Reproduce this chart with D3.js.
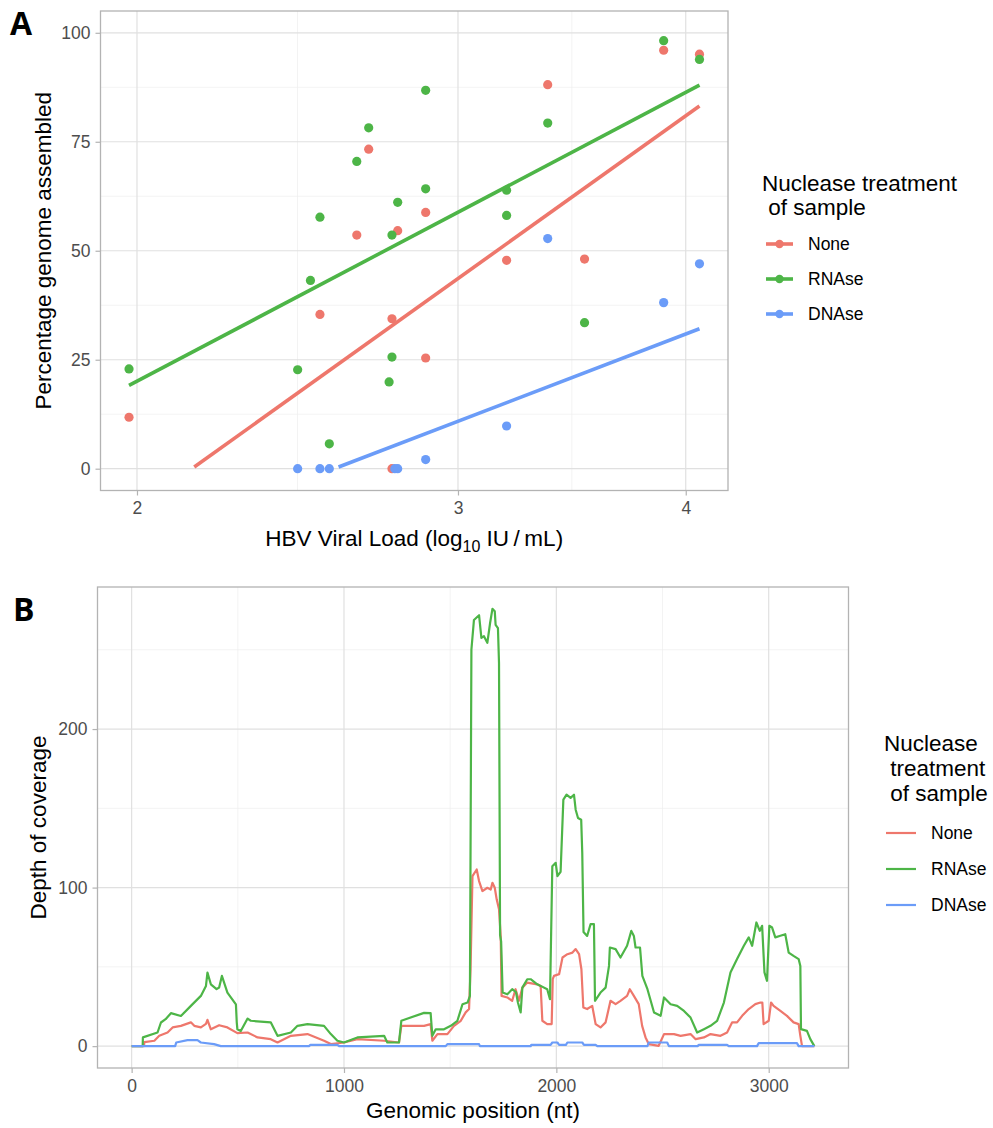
<!DOCTYPE html>
<html lang="en">
<head>
<meta charset="UTF-8">
<title>HBV assembly and coverage</title>
<script src="https://cdn.jsdelivr.net/npm/d3@7"></script>
<style>
  body { margin: 0; background: #fff; font-family: "Liberation Sans", Arial, sans-serif; }
  .grid-major { stroke: #E0E0E0; stroke-width: 1.2; }
  .grid-minor { stroke: #EEEEEE; stroke-width: 0.7; }
  .frame { fill: none; stroke: #B3B3B3; stroke-width: 1.3; }
  .axis path { display: none; }
  .axis line { stroke: #B3B3B3; stroke-width: 1.2; }
  .axis text { fill: #4D4D4D; font-size: 17.5px; font-family: "Liberation Sans", Arial, sans-serif; }
  .title { fill: #000; font-size: 22.5px; }
  .legend-label { fill: #000; font-size: 17.5px; }
  .tag { font-family: "Open Sans", sans-serif; font-weight: 700; font-size: 32px; }
</style>
</head>
<body>
<script>
// treatment groups and colours
var groups = ['None', 'RNAse', 'DNAse'];
var colors = ['#EE776C', '#4DB547', '#6B9CF8'];

// panel A: [log10 viral load, % genome assembled]
var pointsNone = [[1.98,11.8],[2.52,35.4],[2.64,53.6],[2.68,73.3],[2.76,0],[2.76,34.4],[2.78,54.6],
  [2.88,58.8],[2.88,25.4],[3.19,47.8],[3.36,88.1],[3.52,48.1],[3.89,96.0],[4.07,95.1]];
var pointsRNAse = [[1.98,22.9],[2.45,22.7],[2.49,43.2],[2.52,57.7],[2.55,5.7],[2.64,70.5],[2.68,78.2],
  [2.75,19.9],[2.76,25.6],[2.76,53.6],[2.78,61.1],[2.88,86.8],[2.88,64.2],[3.19,63.9],[3.19,58.1],
  [3.36,79.3],[3.52,33.5],[3.89,98.2],[4.07,93.9]];
var pointsDNAse = [[2.45,0],[2.52,0],[2.55,0],[2.77,0],[2.78,0],[2.88,2.1],[3.19,9.8],[3.36,52.8],
  [3.89,38.1],[4.07,47.0]];

// fitted lm lines (start / end, as drawn)
var fitNone = [[2.15,0.4],[4.07,83.2]];
var fitRNAse = [[1.98,19.1],[4.07,88.0]];
var fitDNAse = [[2.58,0.4],[4.07,32.1]];

var xTicksA = [2, 3, 4];
var yTicksA = [0, 25, 50, 75, 100];

// panel B: [genomic position, depth]
var coverageNone = [[0,0],[58,0],[60,2.5],[107,3.4],[130,6.5],[169,8.6],[193,11.8],[232,12.8],[279,15],
  [295,12.8],[326,11.8],[350,14],[357,16.6],[373,10.6],[412,13.2],[451,11.8],[498,8.2],[546,8.6],
  [593,5.5],[655,4.4],[687,2.3],[750,6.5],[828,7.6],[906,3.4],[938,1.3],[1000,2.3],[1063,4.4],
  [1189,3.4],[1259,2.3],[1270,12.8],[1377,12.8],[1408,13.9],[1416,3.4],[1440,7.6],[1487,7.6],
  [1518,12.8],[1550,16],[1573,21.3],[1589,23.4],[1596,48.7],[1605,107.2],[1625,111.4],[1636,104.1],
  [1652,97.8],[1675,99.9],[1691,98.8],[1699,103],[1710,99.9],[1719,92.6],[1730,86.3],[1738,69.5],
  [1742,31.7],[1769,30.7],[1792,28.6],[1808,35.9],[1824,28.6],[1840,36.9],[1863,40.1],[1910,39],
  [1926,38],[1934,16],[1957,13.9],[1978,13.9],[1983,42.2],[1989,44.3],[2013,45.4],[2029,55.9],
  [2052,58],[2076,59],[2091,61.2],[2107,58],[2118,48.5],[2127,24.4],[2145,23.4],[2169,25.4],
  [2185,13.9],[2208,11.8],[2232,15],[2255,28.6],[2279,26.5],[2302,28.6],[2333,31.7],[2346,35.9],
  [2365,31.7],[2388,26.5],[2404,12.8],[2420,5.5],[2435,1.3],[2482,0.2],[2507,7.6],[2554,7.6],
  [2585,6.5],[2632,7.6],[2656,4.4],[2695,5.5],[2726,7.6],[2773,6.5],[2804,8.6],[2828,15],[2851,15],
  [2875,19.1],[2906,23.4],[2937,26.5],[2961,27.5],[2970,27.5],[2976,13.9],[3000,16],[3011,27.5],
  [3023,25.4],[3055,22.2],[3086,19.1],[3117,15],[3141,13.9],[3149,6.5],[3157,0],[3215,0]];
var coverageRNAse = [[0,0],[52,0],[53,5.5],[122,8.6],[138,14.9],[160,17],[185,20.8],[232,19],
  [279,25.4],[326,31.7],[350,38],[357,46.4],[373,39],[400,36],[412,37],[425,44.3],[451,33.8],
  [491,26.4],[495,15],[498,10.6],[514,9.5],[546,17.4],[561,16],[655,15],[687,6.5],[750,8.6],
  [781,12.8],[828,13.9],[906,12.8],[938,7.6],[969,3.4],[1000,2.3],[1063,5.5],[1189,6.5],[1204,2.3],
  [1259,2.3],[1270,16],[1377,21],[1408,20.8],[1416,6.5],[1432,10.6],[1471,10.6],[1503,12.8],
  [1534,16],[1558,26.4],[1582,27.5],[1593,31.7],[1600,250],[1612,268.8],[1636,271.8],[1647,257.5],
  [1659,258.6],[1675,254.4],[1688,266.9],[1699,275.8],[1710,274.3],[1714,265.7],[1725,263.6],
  [1730,241.5],[1735,70],[1740,66],[1747,33.8],[1769,32.7],[1792,35.9],[1810,34],[1819,27.5],
  [1832,21.3],[1840,36.9],[1863,42.2],[1879,42.2],[1910,39],[1926,38],[1957,35.9],[1970,29.6],
  [1981,113.5],[1997,115.6],[2005,107.2],[2020,110],[2033,155.5],[2048,158.6],[2067,156.6],
  [2083,158.6],[2091,149.1],[2102,143.9],[2117,142.8],[2122,121.8],[2128,72],[2145,69.5],
  [2161,76.9],[2177,76.9],[2182,28.6],[2208,33.8],[2232,36.9],[2248,50.6],[2252,62.2],[2279,61.2],
  [2302,55.9],[2333,63.3],[2353,72.7],[2365,69.5],[2373,62.2],[2394,62.2],[2405,44.3],[2429,35.9],
  [2460,21.2],[2491,19.1],[2507,30.7],[2538,26.4],[2569,25.4],[2601,22.2],[2632,18],[2663,8.6],
  [2695,10.7],[2726,12.8],[2757,15.9],[2789,27.5],[2820,46.5],[2851,54.9],[2883,63.3],[2906,68.6],
  [2922,63.3],[2942,78],[2958,72.7],[2969,75.9],[2980,46.5],[2992,41.2],[3003,75.9],[3016,74.8],
  [3031,68.6],[3055,69.6],[3078,70.6],[3094,59],[3117,56.9],[3141,54.9],[3149,50.6],[3152,10.7],
  [3180,9.6],[3196,4.4],[3215,0]];
var coverageDNAse = [[0,0],[205,0],[210,2.3],[263,3.8],[310,3.8],[326,2.3],[388,1.3],[420,0],[835,0],
  [842,0.8],[969,0.8],[977,0],[1479,0],[1487,1.3],[1636,1.3],[1640,0],[1879,0],[1882,0.8],[1973,0.8],
  [1981,2.3],[2005,2.3],[2013,0.8],[2045,0.8],[2052,2.3],[2122,2.3],[2130,0.8],[2185,0.8],[2193,0],
  [2429,0],[2435,2.3],[2522,2.3],[2530,0],[2665,0],[2671,0.8],[2804,0.8],[2812,0],[2945,0],[2953,1.9],
  [3133,1.9],[3141,0],[3215,0]];

var xTicksB = [0, 1000, 2000, 3000];
var yTicksB = [0, 100, 200];

var svg = d3.select('body').append('svg')
  .attr('width', 993)
  .attr('height', 1128);

function midpoints(t, f) {
  return d3.pairs(t).map(function(p){ return f(p[0], p[1]); });
}

function styleAxis(g) {
  g.attr('class', 'axis');
}

// ---------- panel A ----------
var A = {left: 100.5, right: 728, top: 11, bottom: 490.5};
var pointSets = [pointsNone, pointsRNAse, pointsDNAse];
var fitSets = [fitNone, fitRNAse, fitDNAse];
var allPts = d3.merge(pointSets);
var lx = d3.extent(allPts, function(d){ return Math.log10(d[0]); });
var padA = (lx[1] - lx[0]) * 0.05;

var xA = d3.scaleLog()
  .domain([Math.pow(10, lx[0] - padA), Math.pow(10, lx[1] + padA)])
  .range([A.left, A.right]);
var yA = d3.scaleLinear()
  .domain([-5, 105])
  .range([A.bottom, A.top]);

var gA = svg.append('g');
gA.selectAll('.minx').data(midpoints(xTicksA, function(a, b){ return Math.sqrt(a * b); }))
  .enter().append('line').attr('class', 'grid-minor')
  .attr('x1', xA).attr('x2', xA).attr('y1', A.top).attr('y2', A.bottom);
gA.selectAll('.miny').data(midpoints(yTicksA, function(a, b){ return (a + b) / 2; }))
  .enter().append('line').attr('class', 'grid-minor')
  .attr('y1', yA).attr('y2', yA).attr('x1', A.left).attr('x2', A.right);
gA.selectAll('.majx').data(xTicksA)
  .enter().append('line').attr('class', 'grid-major')
  .attr('x1', xA).attr('x2', xA).attr('y1', A.top).attr('y2', A.bottom);
gA.selectAll('.majy').data(yTicksA)
  .enter().append('line').attr('class', 'grid-major')
  .attr('y1', yA).attr('y2', yA).attr('x1', A.left).attr('x2', A.right);

pointSets.forEach(function(pts, i){
  gA.selectAll('.pt' + i).data(pts).enter().append('circle')
    .attr('cx', function(d){ return xA(d[0]); })
    .attr('cy', function(d){ return yA(d[1]); })
    .attr('r', 4.6)
    .attr('fill', colors[i]);
});

var lineA = d3.line()
  .x(function(d){ return xA(d[0]); })
  .y(function(d){ return yA(d[1]); });
fitSets.forEach(function(f, i){
  gA.append('path').attr('d', lineA(f))
    .attr('fill', 'none').attr('stroke', colors[i]).attr('stroke-width', 3.6);
});

gA.append('rect').attr('class', 'frame')
  .attr('x', A.left).attr('y', A.top)
  .attr('width', A.right - A.left).attr('height', A.bottom - A.top);

gA.append('g').attr('transform', 'translate(0,' + A.bottom + ')')
  .call(d3.axisBottom(xA).tickValues(xTicksA).tickFormat(d3.format('d')).tickSize(5).tickPadding(6))
  .call(styleAxis);
gA.append('g').attr('transform', 'translate(' + A.left + ',0)')
  .call(d3.axisLeft(yA).tickValues(yTicksA).tickSize(5).tickPadding(5))
  .call(styleAxis);

var xt = gA.append('text').attr('class', 'title')
  .attr('x', (A.left + A.right) / 2).attr('y', 546)
  .attr('text-anchor', 'middle');
xt.append('tspan').text('HBV Viral Load (log');
xt.append('tspan').attr('font-size', '16px').attr('dy', 6).text('10');
xt.append('tspan').attr('dy', -6).text(' IU\u2009/\u2009mL)');

gA.append('text').attr('class', 'title')
  .attr('transform', 'translate(51,' + (A.top + A.bottom) / 2 + ') rotate(-90)')
  .attr('text-anchor', 'middle')
  .text('Percentage genome assembled');

// legend A
var legA = gA.append('g');
legA.append('text').attr('class', 'title').attr('x', 762).attr('y', 191).text('Nuclease treatment');
legA.append('text').attr('class', 'title').attr('x', 762).attr('y', 215)
  .style('white-space', 'pre').text(' of sample');
groups.forEach(function(g, i){
  var y = 244 + i * 35;
  legA.append('line').attr('x1', 766).attr('x2', 793).attr('y1', y).attr('y2', y)
    .attr('stroke', colors[i]).attr('stroke-width', 3.6);
  legA.append('circle').attr('cx', 779.5).attr('cy', y).attr('r', 4.2).attr('fill', colors[i]);
  legA.append('text').attr('class', 'legend-label').attr('x', 808).attr('y', y + 6).text(g);
});

svg.append('text').attr('class', 'tag').attr('x', 10).attr('y', 35).text('A');

// ---------- panel B ----------
var B = {left: 97.5, right: 848.5, top: 587, bottom: 1068};
var covSets = [coverageNone, coverageRNAse, coverageDNAse];
var allCov = d3.merge(covSets);
var xr = d3.extent(allCov, function(d){ return d[0]; });
var yr = [0, d3.max(allCov, function(d){ return d[1]; })];
var padX = (xr[1] - xr[0]) * 0.05, padY = (yr[1] - yr[0]) * 0.05;

var xB = d3.scaleLinear().domain([xr[0] - padX, xr[1] + padX]).range([B.left, B.right]);
var yB = d3.scaleLinear().domain([yr[0] - padY, yr[1] + padY]).range([B.bottom, B.top]);

var gB = svg.append('g');
var minXB = midpoints(xTicksB, function(a, b){ return (a + b) / 2; });
var minYB = midpoints(yTicksB, function(a, b){ return (a + b) / 2; }).concat([250]);
gB.selectAll('.minx').data(minXB).enter().append('line').attr('class', 'grid-minor')
  .attr('x1', xB).attr('x2', xB).attr('y1', B.top).attr('y2', B.bottom);
gB.selectAll('.miny').data(minYB).enter().append('line').attr('class', 'grid-minor')
  .attr('y1', yB).attr('y2', yB).attr('x1', B.left).attr('x2', B.right);
gB.selectAll('.majx').data(xTicksB).enter().append('line').attr('class', 'grid-major')
  .attr('x1', xB).attr('x2', xB).attr('y1', B.top).attr('y2', B.bottom);
gB.selectAll('.majy').data(yTicksB).enter().append('line').attr('class', 'grid-major')
  .attr('y1', yB).attr('y2', yB).attr('x1', B.left).attr('x2', B.right);

var lineB = d3.line()
  .x(function(d){ return xB(d[0]); })
  .y(function(d){ return yB(d[1]); });
covSets.forEach(function(c, i){
  gB.append('path').attr('d', lineB(c))
    .attr('fill', 'none').attr('stroke', colors[i]).attr('stroke-width', 2.2)
    .attr('stroke-linejoin', 'round');
});

gB.append('rect').attr('class', 'frame')
  .attr('x', B.left).attr('y', B.top)
  .attr('width', B.right - B.left).attr('height', B.bottom - B.top);

gB.append('g').attr('transform', 'translate(0,' + B.bottom + ')')
  .call(d3.axisBottom(xB).tickValues(xTicksB).tickFormat(d3.format('d')).tickSize(5).tickPadding(7))
  .call(styleAxis);
gB.append('g').attr('transform', 'translate(' + B.left + ',0)')
  .call(d3.axisLeft(yB).tickValues(yTicksB).tickSize(5).tickPadding(5))
  .call(styleAxis);

gB.append('text').attr('class', 'title')
  .attr('x', (B.left + B.right) / 2).attr('y', 1118)
  .attr('text-anchor', 'middle')
  .text('Genomic position (nt)');
gB.append('text').attr('class', 'title')
  .attr('transform', 'translate(46,' + (B.top + B.bottom) / 2 + ') rotate(-90)')
  .attr('text-anchor', 'middle')
  .text('Depth of coverage');

// legend B
var legB = gB.append('g');
['Nuclease', ' treatment', ' of sample'].forEach(function(t, i){
  legB.append('text').attr('class', 'title').attr('x', 884).attr('y', 751 + i * 25)
    .style('white-space', 'pre').text(t);
});
groups.forEach(function(g, i){
  var y = 833 + i * 36;
  legB.append('line').attr('x1', 886).attr('x2', 916).attr('y1', y).attr('y2', y)
    .attr('stroke', colors[i]).attr('stroke-width', 2.2);
  legB.append('text').attr('class', 'legend-label').attr('x', 931).attr('y', y + 6).text(g);
});

svg.append('text').attr('class', 'tag').attr('x', 13).attr('y', 621).text('B');
</script>
</body>
</html>
